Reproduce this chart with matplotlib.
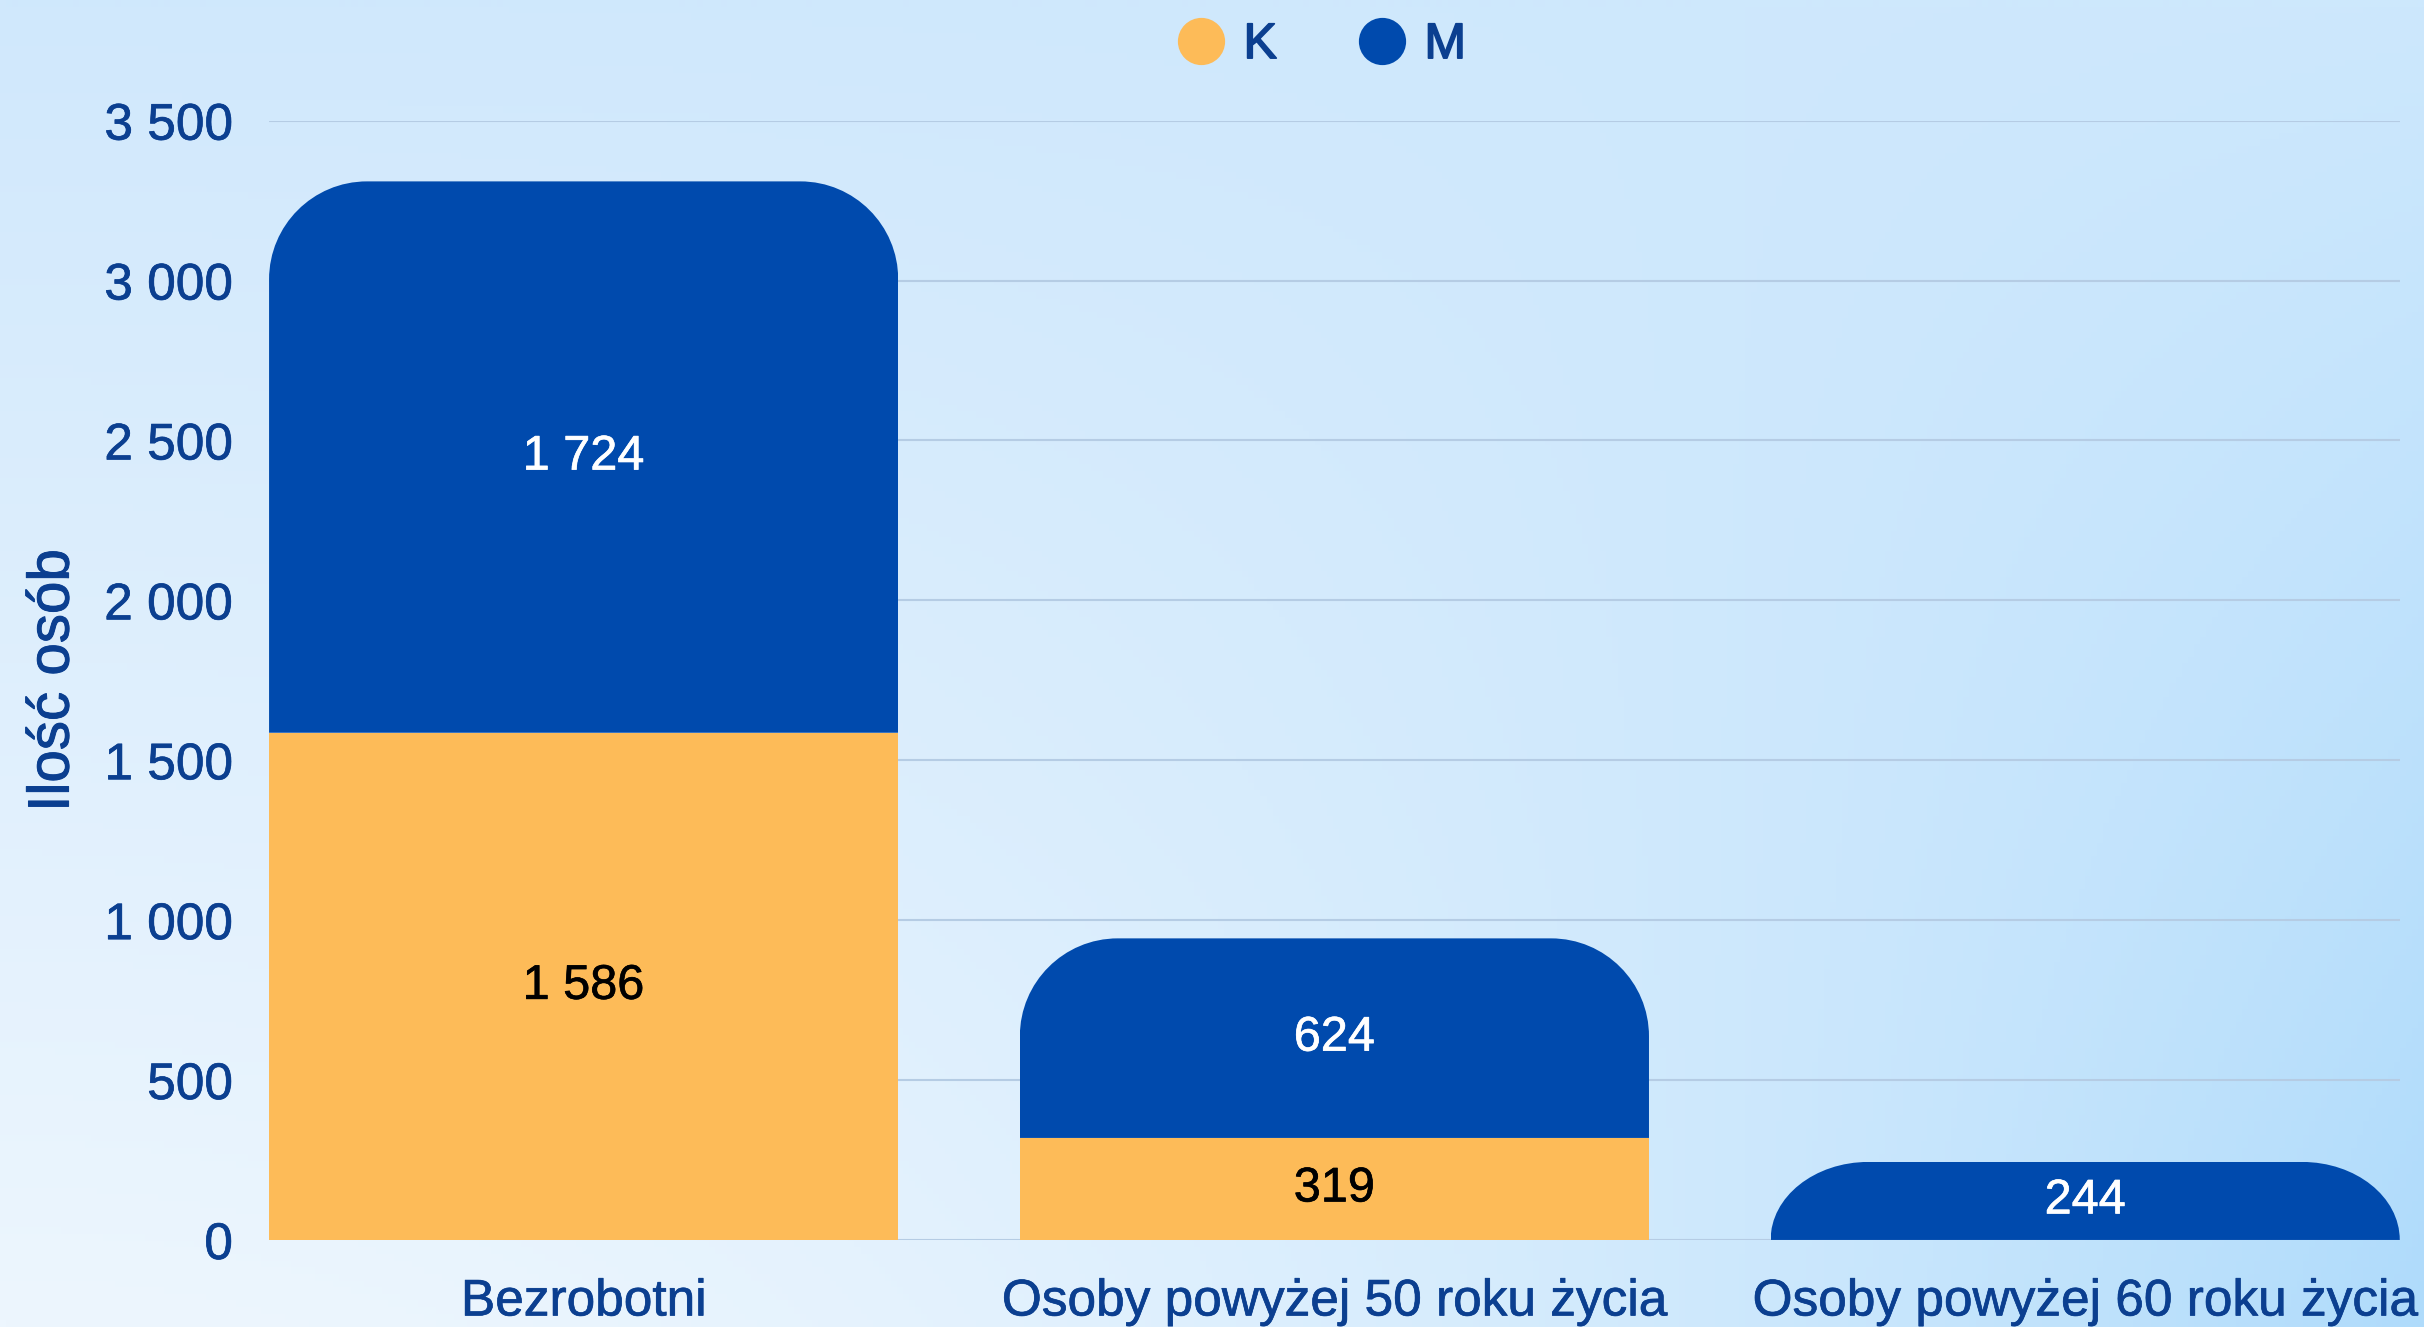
import numpy as np
import matplotlib.pyplot as plt
import matplotlib.patheffects as pe
from matplotlib.path import Path
from matplotlib.lines import Line2D

plt.rcParams['font.family'] = ['Liberation Sans', 'DejaVu Sans']

# data
categories = ['Bezrobotni', 'Osoby powyżej 50 roku życia', 'Osoby powyżej 60 roku życia']
k_values = [1586, 319, 0]
m_values = [1724, 624, 244]
y_ticks = [0, 500, 1000, 1500, 2000, 2500, 3000, 3500]

orange = '#FDBB58'
blue = '#004AAD'
text_col = '#0B3F90'


def fmt(v):
    return f'{v:,}'.replace(',', ' ')


def medium(color, lw=0.25):
    # slight stroke so the text looks like a medium weight
    return [pe.withStroke(linewidth=lw, foreground=color)]


fig = plt.figure(figsize=(12.12, 6.635), dpi=200)

# background gradient
bg = fig.add_axes([0, 0, 1, 1], zorder=-10)
h, w = 200, 400
yy, xx = np.mgrid[0:1:h * 1j, 0:1:w * 1j]
top_left = np.array([208, 232, 252]) / 255
bot_left = np.array([237, 246, 254]) / 255
top_right = np.array([205, 232, 253]) / 255
bot_right = np.array([175, 219, 251]) / 255
t = yy[..., None]
s = (xx ** 2)[..., None]
img = (top_left * (1 - t) + bot_left * t) * (1 - s) + (top_right * (1 - t) + bot_right * t) * s
bg.imshow(img, aspect='auto', extent=[0, 1, 0, 1], origin='upper')
bg.axis('off')

ax = fig.add_axes([0.111, 0.0656, 0.879, 0.8435])
ax.patch.set_alpha(0)
x = np.arange(len(categories))
width = 0.838

bars_k = ax.bar(x, k_values, width, color=orange, label='K', zorder=3)
bars_m = ax.bar(x, m_values, width, bottom=k_values, color=blue, label='M', zorder=3)

ax.set_ylim(0, 3500)
ax.set_xlim(-width / 2, len(categories) - 1 + width / 2)
ax.set_yticks(y_ticks)
ax.set_yticklabels([fmt(v) for v in y_ticks])
ax.set_xticks(x)
ax.set_xticklabels(categories)
ax.tick_params(axis='both', length=0, labelsize=18.5, colors=text_col)
ax.tick_params(axis='y', pad=13)
ax.tick_params(axis='x', pad=13.5)
for lbl in ax.get_xticklabels() + ax.get_yticklabels():
    lbl.set_path_effects(medium(text_col))
ax.yaxis.grid(True, color='#B5CCE4', linewidth=0.75, zorder=0)
ax.set_axisbelow(True)
for sp in ax.spines.values():
    sp.set_visible(False)
ax.set_ylabel('Ilość osób', fontsize=21, color=text_col, labelpad=8.5,
              path_effects=medium(text_col, 0.35))

# rounded top corners on the top segment
px_x = ax.transData.transform((1, 0))[0] - ax.transData.transform((0, 0))[0]
px_y = ax.transData.transform((0, 1))[1] - ax.transData.transform((0, 0))[1]
r_px = 98
kap = 0.5523
for rect in bars_m:
    x0, y0 = rect.get_x(), rect.get_y()
    x1, y1 = x0 + rect.get_width(), y0 + rect.get_height()
    hpx = rect.get_height() * px_y
    rx = r_px / px_x
    ry = min(r_px, hpx) / px_y
    verts = [(x0, y0), (x0, y1 - ry),
             (x0, y1 - ry + kap * ry), (x0 + rx - kap * rx, y1), (x0 + rx, y1),
             (x1 - rx, y1),
             (x1 - rx + kap * rx, y1), (x1, y1 - ry + kap * ry), (x1, y1 - ry),
             (x1, y0), (x0, y0)]
    codes = [Path.MOVETO, Path.LINETO,
             Path.CURVE4, Path.CURVE4, Path.CURVE4,
             Path.LINETO,
             Path.CURVE4, Path.CURVE4, Path.CURVE4,
             Path.LINETO, Path.CLOSEPOLY]
    rect.set_clip_path(Path(verts, codes), ax.transData)

# value labels
for i in x:
    if k_values[i] > 0:
        ax.text(i, k_values[i] / 2, fmt(k_values[i]), ha='center', va='center',
                fontsize=17.5, color='black', zorder=5, path_effects=medium('black'))
    ax.text(i, k_values[i] + m_values[i] / 2, fmt(m_values[i]), ha='center', va='center',
            fontsize=17.5, color='white', zorder=5, path_effects=medium('white'))

handles = [Line2D([], [], marker='o', linestyle='', markersize=16, color=orange),
           Line2D([], [], marker='o', linestyle='', markersize=16, color=blue)]
leg = fig.legend(handles=handles, labels=['K', 'M'], loc='center',
                 bbox_to_anchor=(0.545, 0.966), ncol=2, frameon=False,
                 handlelength=1.0, columnspacing=1.6, handletextpad=0.35,
                 prop={'size': 18})
for txt in leg.get_texts():
    txt.set_color(text_col)
    txt.set_path_effects(medium(text_col, 0.6))

fig.savefig('out.png', dpi=200)
